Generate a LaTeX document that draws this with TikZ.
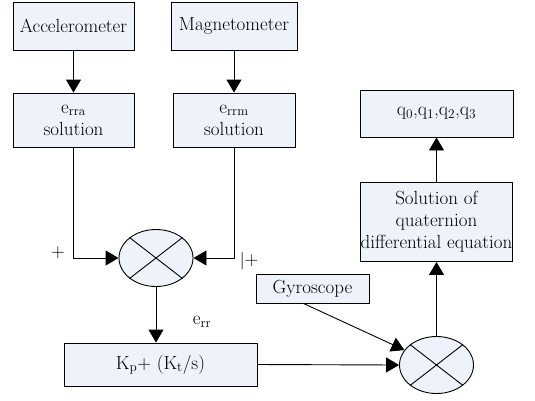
\documentclass[tikz,border=0pt]{standalone}
\usetikzlibrary{arrows.meta,shapes.geometric}
\definecolor{boxfill}{RGB}{238,243,251}
\begin{document}
\begin{tikzpicture}[x=1pt, y=-1pt, line width=0.9pt, >={Triangle[length=13pt,width=15pt]},
  blk/.style={draw, fill=boxfill, align=center, inner sep=0pt,
    font=\fontsize{19}{22}\selectfont},
  summ/.style={draw, fill=boxfill, ellipse, minimum width=74pt, minimum height=57pt, inner sep=0pt},
  lbl/.style={font=\fontsize{19}{22}\selectfont}]
\useasboundingbox (0,0) rectangle (535,400);
% sensors and error blocks
\node[blk, minimum width=121pt, minimum height=48pt] (acc) at (73.5,26) {Accelerometer};
\node[blk, minimum width=126pt, minimum height=48pt] (mag) at (234,26) {Magnetometer};
\node[blk, minimum width=121pt, minimum height=54pt] (ea) at (73.5,120) {e\textsubscript{rra}\\solution};
\node[blk, minimum width=122pt, minimum height=54pt] (em) at (234,120) {e\textsubscript{rrm}\\solution};
\draw[->](acc)--(ea);
\draw[->](mag)--(em);
% first summing point
\node[summ] (s1) at (156,258) {};
\draw(s1.north west)--(s1.south east) (s1.south west)--(s1.north east);
\draw[->](ea.south)|-(s1.west);
\draw[->](em.south)|-(s1.east);
\node[lbl] (pa) at (58,253) {+};
\node[lbl] (pm) at (249,261) {$|$+};
% PI block
\node[blk, minimum width=193pt, minimum height=43pt] (pi) at (160.5,364.5) {K\textsubscript{p}+ (K\textsubscript{t}/s)};
\draw[->](s1.south)--(s1.south |- pi.north);
\node[lbl] (err) at (202,322) {e\textsubscript{rr}};
% second summing point
\node[summ] (s2) at (436.5,365) {};
\draw(s2.north west)--(s2.south east) (s2.south west)--(s2.north east);
\node[blk, minimum width=113pt, minimum height=29pt] (gyro) at (312.5,288.5) {Gyroscope};
\draw[->](pi.east)--(s2.west);
\draw[->]([xshift=-9pt]gyro.south)--(s2.155);
% quaternion update
\node[blk, minimum width=152pt, minimum height=79pt] (sol) at (436.5,222) {Solution of\\quaternion\\differential equation};
\node[blk, minimum width=153pt, minimum height=47pt] (q) at (436.5,113.5) {q\textsubscript{0},q\textsubscript{1},q\textsubscript{2},q\textsubscript{3}};
\draw[->](s2.north)--(sol.south);
\draw[->](sol.north)--(q.south);
\end{tikzpicture}
\end{document}
